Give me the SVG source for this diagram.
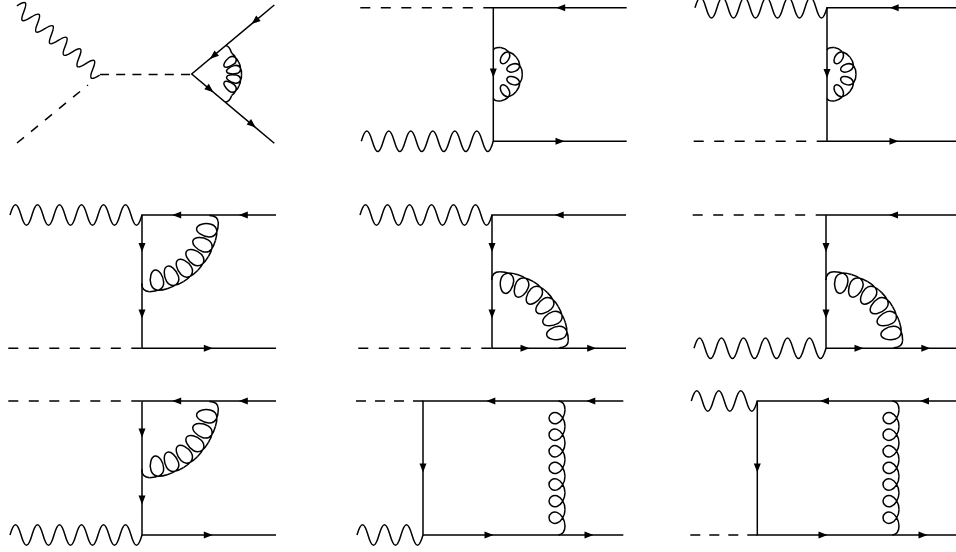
<svg xmlns="http://www.w3.org/2000/svg" width="956" height="552" viewBox="0 0 956 552">
<style>
.l{fill:none;stroke:#000;stroke-width:1.5}
.d{stroke-dasharray:10 9}
.e{stroke-dasharray:10 10.5}
.dA{stroke-dasharray:9 7.2}
.a{fill:#000;stroke:none}
.v{vector-effect:non-scaling-stroke}
</style>
<defs>
<path id="a" class="a" d="M4.5,0L-4.5,-3.5L-4.5,3.5Z"/>
<path id="w12" class="v" d="M0,0c4,-13.7 7,-13.7 11,0s7,13.7 11,0s7,-13.7 11,0s7,13.7 11,0s7,-13.7 11,0s7,13.7 11,0s7,-13.7 11,0s7,13.7 11,0s7,-13.7 11,0s7,13.7 11,0s7,-13.7 11,0s7,13.7 11,0"/>
<path id="w6" d="M0,0c4,-13.7 7,-13.7 11,0s7,13.7 11,0s7,-13.7 11,0s7,13.7 11,0s7,-13.7 11,0s7,13.7 11,0"/>
<path id="g" d="M0,0C6.36,0 12.27,-3.81 13.65,-8C15.03,-12.19 11.89,-16 8.3,-16C4.71,-16 1.56,-12.19 2.94,-8C4.32,-3.81 10.24,0 16.6,0"/>
<path id="p" d="M0,0C6,.8 14.3,1.2 15.3,-7C16,-13.5 12.8,-20.5 8.865,-20.5C4.9,-20.5 1.7,-13.5 2.4,-7C3.4,1.2 11.7,.8 17.73,0"/>
<path id="h" d="M0,0C5,1.8 12.3,2 12.9,-5.5C13.3,-10 11.2,-13 9.1,-13C7,-13 4.9,-10 5.3,-5.5C5.9,2 13.2,1.8 18.2,0"/>
<path id="k" d="M0,0C3,1 10.2,1.5 10,-5C9.8,-10 8,-14 5.95,-14C3.9,-14 2.1,-10 1.9,-5C1.7,1.5 8.9,1 11.9,0"/>
<g id="ga">
<path d="M62.6,4.4Q71.5,4.3 71.63,-3M3,-71.63Q-4.9,-71.5 -5,-63.3"/>
<use href="#p" transform="rotate(-99.5) translate(-8.865,71.15)"/>
<use href="#p" transform="rotate(-113.7) translate(-8.865,71.15)"/>
<use href="#p" transform="rotate(-127.9) translate(-8.865,71.15)"/>
<use href="#p" transform="rotate(-142.1) translate(-8.865,71.15)"/>
<use href="#p" transform="rotate(-156.3) translate(-8.865,71.15)"/>
<use href="#p" transform="rotate(-170.5) translate(-8.865,71.15)"/>
</g>
<g id="gh">
<path d="M-1.7,-24.3Q-0.5,-27.2 5.68,-26.7M-1.7,24Q-0.5,27.2 5.68,26.7"/>
<use href="#h" transform="rotate(-148.5) translate(-9.1,25.73)"/>
<use href="#h" transform="rotate(-109.5) translate(-9.1,25.73)"/>
<use href="#h" transform="rotate(-70.5) translate(-9.1,25.73)"/>
<use href="#h" transform="rotate(-31.5) translate(-9.1,25.73)"/>
</g>
<g id="gs">
<path d="M-6.7,9Q0,8 0,0M0,-116.2Q0,-124.5 -6.7,-125"/>
<use href="#g" transform="rotate(-90)"/>
<use href="#g" transform="translate(0,-16.6) rotate(-90)"/>
<use href="#g" transform="translate(0,-33.2) rotate(-90)"/>
<use href="#g" transform="translate(0,-49.8) rotate(-90)"/>
<use href="#g" transform="translate(0,-66.4) rotate(-90)"/>
<use href="#g" transform="translate(0,-83) rotate(-90)"/>
<use href="#g" transform="translate(0,-99.6) rotate(-90)"/>
</g>
</defs>
<g id="connectors" class="l">
<g id="diagram-1-1">
<use href="#w12" transform="translate(16.9,5.9) rotate(39.9) scale(.817,.75)"/>
<path class="dA" d="M100,74.5H191.7"/>
<path stroke-dasharray="9 9.1" d="M17,143L88,85"/>
<path d="M274.3,5L191.7,74L274.3,143.3"/>
<use href="#a" transform="translate(255,21.1) rotate(140.1)"/>
<use href="#a" transform="translate(213.3,56) rotate(140.1)"/>
<use href="#a" transform="translate(210,89.4) rotate(39.9)"/>
<use href="#a" transform="translate(252.3,124.6) rotate(39.9)"/>
<path d="M226,45.7C229.5,45.7 230.5,50 231.7,53.2M225,102C228.5,102 230.5,99 231.7,95.4"/>
<use href="#k" transform="translate(214,74.3) rotate(-127.5) translate(-5.95,26.85)"/>
<use href="#k" transform="translate(214,74.3) rotate(-102.5) translate(-5.95,26.85)"/>
<use href="#k" transform="translate(214,74.3) rotate(-77.5) translate(-5.95,26.85)"/>
<use href="#k" transform="translate(214,74.3) rotate(-52.5) translate(-5.95,26.85)"/>
</g>
<g id="diagram-1-2">
<path class="e" d="M360.3,7.7H493.3"/>
<use href="#w12" transform="translate(361.3,141.3)"/>
<path d="M626.7,7.7H493.3V141.3H626.7"/>
<use href="#a" transform="translate(560.7,7.7) rotate(180)"/>
<use href="#a" transform="translate(493.3,73) rotate(90)"/>
<use href="#a" transform="translate(560,141.3)"/>
<use href="#gh" transform="translate(495,74.3)"/>
</g>
<g id="diagram-1-3">
<use href="#w12" transform="translate(695,7.7)"/>
<path class="e" d="M693.7,141.3H827"/>
<path d="M956,7.7H827V141.3H956"/>
<use href="#a" transform="translate(894.2,7.7) rotate(180)"/>
<use href="#a" transform="translate(827,73.5) rotate(90)"/>
<use href="#a" transform="translate(894,141.3)"/>
<use href="#gh" transform="translate(828.7,74.3)"/>
</g>
<g id="diagram-2-1">
<use href="#w12" transform="translate(10,215)"/>
<path class="e" d="M8.3,348.3H142"/>
<path d="M276,215H142V348.3H276"/>
<use href="#a" transform="translate(176.7,215) rotate(180)"/>
<use href="#a" transform="translate(243.3,215) rotate(180)"/>
<use href="#a" transform="translate(142,247.5) rotate(90)"/>
<use href="#a" transform="translate(142,314) rotate(90)"/>
<use href="#a" transform="translate(208.3,348.3)"/>
<use href="#ga" transform="translate(146.7,220) scale(1,-1)"/>
</g>
<g id="diagram-2-2">
<use href="#w12" transform="translate(360,215)"/>
<path class="e" d="M358.3,348.3H492"/>
<path d="M626,215H492V348.3H626"/>
<use href="#a" transform="translate(559.2,215) rotate(180)"/>
<use href="#a" transform="translate(492,247.5) rotate(90)"/>
<use href="#a" transform="translate(492,314) rotate(90)"/>
<use href="#a" transform="translate(525,348.3)"/>
<use href="#a" transform="translate(591.7,348.3)"/>
<use href="#ga" transform="translate(496.7,343.3)"/>
</g>
<g id="diagram-2-3">
<use href="#w12" transform="translate(694,348.3)"/>
<path class="e" d="M692.7,215H826"/>
<path d="M956,215H826V348.3H956"/>
<use href="#a" transform="translate(893.5,215) rotate(180)"/>
<use href="#a" transform="translate(826,247.5) rotate(90)"/>
<use href="#a" transform="translate(826,314) rotate(90)"/>
<use href="#a" transform="translate(859,348.3)"/>
<use href="#a" transform="translate(925.8,348.3)"/>
<use href="#ga" transform="translate(831,343.3)"/>
</g>
<g id="diagram-3-1">
<use href="#w12" transform="translate(10,535)"/>
<path class="e" d="M8.3,401H142"/>
<path d="M276,401H142V535H276"/>
<use href="#a" transform="translate(176.7,401) rotate(180)"/>
<use href="#a" transform="translate(243.3,401) rotate(180)"/>
<use href="#a" transform="translate(142,433) rotate(90)"/>
<use href="#a" transform="translate(142,500) rotate(90)"/>
<use href="#a" transform="translate(208.3,535)"/>
<use href="#ga" transform="translate(146.7,406) scale(1,-1)"/>
</g>
<g id="diagram-3-2">
<use href="#w6" transform="translate(357,535)"/>
<path class="d" d="M356,401H423"/>
<path d="M623.3,401H423V535H623.3"/>
<use href="#a" transform="translate(490.8,401) rotate(180)"/>
<use href="#a" transform="translate(590.8,401) rotate(180)"/>
<use href="#a" transform="translate(423,468) rotate(90)"/>
<use href="#a" transform="translate(489,535)"/>
<use href="#a" transform="translate(589,535)"/>
<use href="#gs" transform="translate(565,526)"/>
</g>
<g id="diagram-3-3">
<use href="#w6" transform="translate(691.3,401)"/>
<path class="d" d="M690.3,535H757.3"/>
<path d="M956,401H757.3V535H956"/>
<use href="#a" transform="translate(824.5,401) rotate(180)"/>
<use href="#a" transform="translate(924.5,401) rotate(180)"/>
<use href="#a" transform="translate(757.3,468) rotate(90)"/>
<use href="#a" transform="translate(823,535)"/>
<use href="#a" transform="translate(923,535)"/>
<use href="#gs" transform="translate(899,526)"/>
</g>
</g>
</svg>
